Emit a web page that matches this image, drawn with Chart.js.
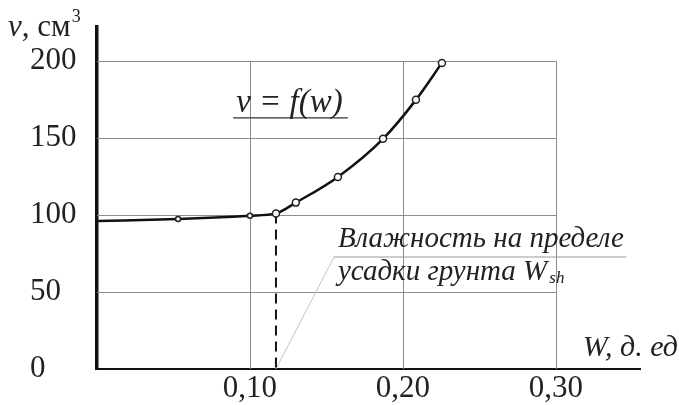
<!DOCTYPE html>
<html>
<head>
<meta charset="utf-8">
<script src="https://cdn.jsdelivr.net/npm/chart.js@4/dist/chart.umd.min.js"></script>
<style>
  html, body { margin: 0; padding: 0; background: #fff; }
  #wrap { width: 679px; height: 405px; }
</style>
</head>
<body>
<div id="wrap"><canvas id="chart"></canvas></div>
<script>
// moisture W (д. ед) vs volume v (см3)
const moisture = [0, 0.053, 0.10, 0.117, 0.130, 0.1575, 0.187, 0.2085, 0.2255];
const volume = [96, 97.4, 99.5, 101, 108, 124.7, 149.4, 174.7, 198.7];
const pointSizes = [0, 2.5, 2.5, 3.5, 3.5, 3.5, 3.5, 3.5, 3.5];
const xTicks = [0.10, 0.20, 0.30];
const yTicks = [0, 50, 100, 150, 200];
const shrinkLimit = 0.117;
const shrinkVolume = 101;

const serif = '"Liberation Serif", "DejaVu Serif", serif';

const gridAndNotes = {
    id: 'gridAndNotes',
    beforeDatasetsDraw(chart) {
        const ctx = chart.ctx;
        const x = chart.scales.x, y = chart.scales.y;
        const xEnd = x.getPixelForValue(xTicks[xTicks.length - 1]);
        const yEnd = y.getPixelForValue(yTicks[yTicks.length - 1]);
        ctx.save();
        ctx.strokeStyle = '#8c8c8c';
        ctx.lineWidth = 1;
        yTicks.slice(1).forEach(v => {
            const py = Math.round(y.getPixelForValue(v)) + 0.5;
            ctx.beginPath();
            ctx.moveTo(x.left, py);
            ctx.lineTo(xEnd, py);
            ctx.stroke();
        });
        xTicks.forEach(v => {
            const px = Math.round(x.getPixelForValue(v)) + 0.5;
            ctx.beginPath();
            ctx.moveTo(px, y.bottom);
            ctx.lineTo(px, yEnd);
            ctx.stroke();
        });

        // leader to the note
        ctx.strokeStyle = '#c4c4c4';
        ctx.beginPath();
        ctx.moveTo(x.getPixelForValue(shrinkLimit), y.getPixelForValue(0));
        ctx.lineTo(x.getPixelForValue(0.155), y.getPixelForValue(72.7));
        ctx.stroke();
        // underline of the note
        ctx.strokeStyle = '#9a9a9a';
        ctx.beginPath();
        ctx.moveTo(x.getPixelForValue(0.155), y.getPixelForValue(72.7));
        ctx.lineTo(x.getPixelForValue(0.346), y.getPixelForValue(72.7));
        ctx.stroke();
        // underline of formula
        ctx.strokeStyle = '#333';
        ctx.lineWidth = 1.2;
        ctx.beginPath();
        ctx.moveTo(x.getPixelForValue(0.089), y.getPixelForValue(163));
        ctx.lineTo(x.getPixelForValue(0.164), y.getPixelForValue(163));
        ctx.stroke();

        // dashed drop line
        ctx.strokeStyle = '#111';
        ctx.lineWidth = 2;
        ctx.setLineDash([10, 6]);
        ctx.beginPath();
        ctx.moveTo(x.getPixelForValue(shrinkLimit), y.getPixelForValue(shrinkVolume));
        ctx.lineTo(x.getPixelForValue(shrinkLimit), y.getPixelForValue(0));
        ctx.stroke();
        ctx.setLineDash([]);

        // texts
        ctx.fillStyle = '#222';
        ctx.textBaseline = 'alphabetic';
        ctx.textAlign = 'left';
        ctx.font = 'italic 33px ' + serif;
        ctx.fillText('v = f(w)', x.getPixelForValue(0.091), y.getPixelForValue(167));

        ctx.font = 'italic 29px ' + serif;
        const nx = x.getPixelForValue(0.1575);
        ctx.fillText('Влажность на пределе', nx, y.getPixelForValue(79));
        const line2 = 'усадки грунта W';
        const ly = y.getPixelForValue(58);
        ctx.fillText(line2, nx, ly);
        const w2 = ctx.measureText(line2).width;
        ctx.font = 'italic 17px ' + serif;
        ctx.fillText('sh', nx + w2 + 2, ly + 3);

        // axis titles
        ctx.font = 'italic 30px ' + serif;
        ctx.textAlign = 'right';
        ctx.fillText('W, д. ед', 678, 356);

        ctx.textAlign = 'left';
        ctx.font = 'italic 31px ' + serif;
        ctx.fillText('v', 8, 36);
        let tx = 8 + ctx.measureText('v').width;
        ctx.font = '31px ' + serif;
        ctx.fillText(', см', tx, 36);
        tx += ctx.measureText(', см').width;
        ctx.font = '18px ' + serif;
        ctx.fillText('3', tx + 1, 22);
        ctx.restore();
    }
};

const data = {
    datasets: [{
        data: moisture.map((w, i) => ({ x: w, y: volume[i] })),
        borderColor: '#111',
        borderWidth: 2.5,
        cubicInterpolationMode: 'monotone',
        pointRadius: pointSizes,
        pointBackgroundColor: '#fff',
        pointBorderColor: '#222',
        pointBorderWidth: 1.5
    }]
};

const config = {
    type: 'line',
    data: data,
    options: {
        responsive: true,
        maintainAspectRatio: false,
        animation: false,
        layout: { padding: { left: 30, right: 39, top: 27, bottom: 0 } },
        plugins: { legend: { display: false }, tooltip: { enabled: false } },
        scales: {
            x: {
                type: 'linear',
                min: 0,
                max: 0.355,
                afterBuildTicks: (scale) => { scale.ticks = xTicks.map(v => ({ value: v })); },
                afterFit: (scale) => { scale.height = 36; },
                grid: { display: false, drawTicks: false },
                border: { display: true, color: '#111', width: 2 },
                ticks: {
                    color: '#222',
                    padding: 1,
                    font: { family: serif, size: 31 },
                    callback: (v) => v.toFixed(2).replace('.', ',')
                }
            },
            y: {
                type: 'linear',
                min: 0,
                max: 222,
                afterBuildTicks: (scale) => { scale.ticks = yTicks.map(v => ({ value: v })); },
                afterFit: (scale) => { scale.width = 67; },
                grid: { display: false },
                border: { display: true, color: '#111', width: 3.5 },
                ticks: {
                    color: '#222',
                    crossAlign: 'far',
                    font: { family: serif, size: 31 }
                }
            }
        }
    },
    plugins: [gridAndNotes]
};

new Chart(document.getElementById('chart'), config);
</script>
</body>
</html>
